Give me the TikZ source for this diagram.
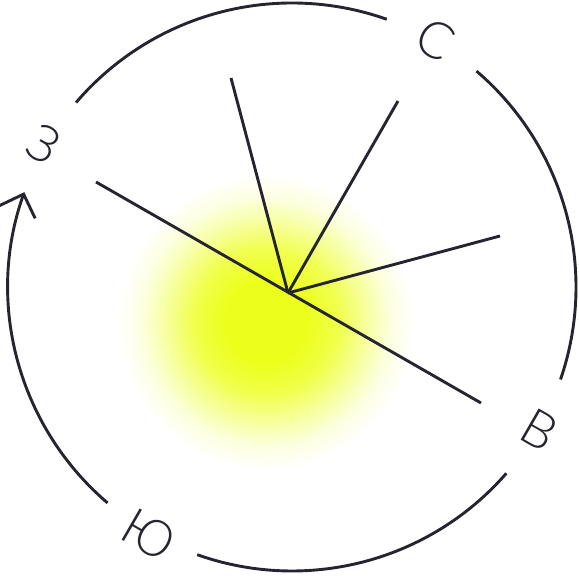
\documentclass[tikz,border=0pt]{standalone}
\usepackage{fontspec}
\newfontfamily\compassfont{Lato}[UprightFont=* Light]
\usepackage{tikz}
\usetikzlibrary{arrows.meta}
\definecolor{ink}{HTML}{25252F}
\definecolor{glowc}{RGB}{236,255,28}
\pgfdeclareradialshading{glow}{\pgfpoint{0bp}{0bp}}{%
  color(0bp)=(glowc); color(7bp)=(glowc); color(12bp)=(glowc!80!white);
  color(17bp)=(glowc!42!white); color(21bp)=(glowc!14!white);
  color(25bp)=(white); color(50bp)=(white)}

\begin{document}
\begin{tikzpicture}[
    x=1pt, y=1pt,
    ring/.style={draw=ink, line width=2.9pt},
    ray/.style={draw=ink, line width=2.9pt},
    letter/.style={font=\compassfont\fontsize{51}{51}\selectfont, text=ink, inner sep=0pt, rotate=-30}
]
\useasboundingbox (0,0) rectangle (579,577);
\coordinate (ctr) at (292,290);
\coordinate (hub) at (288,284);

% glow behind the rays
\shade[shading=glow] (266,255) circle (148);

% ring, broken at the four letters
\draw[ring] ([shift={(70.5:284)}]ctr) arc[start angle=70.5, end angle=139.5, radius=284];
\draw[ring, -{Straight Barb[length=19pt, width=38pt]}] ([shift={(229.5:284)}]ctr) arc[start angle=229.5, end angle=160.5, radius=284];
\draw[ring] ([shift={(-109.5:284)}]ctr) arc[start angle=-109.5, end angle=-41, radius=284];
\draw[ring] ([shift={(-19:284)}]ctr) arc[start angle=-19, end angle=49.5, radius=284];

\node[letter] (north) at ([shift={(60:286)}]ctr) {С};
\node[letter] (east) at ([shift={(-30:286)}]ctr) {В};
\node[letter] (south) at ([shift={(-120:286)}]ctr) {Ю};
\node[letter] (west) at ([shift={(150:286)}]ctr) {З};

% rays
\coordinate (rayA) at (231,499);
\coordinate (rayB) at (398,476);
\coordinate (rayC) at (500,341);
\coordinate (axisW) at (96,395);
\coordinate (axisE) at (481,174);
\draw[ray] (hub) -- (rayA);
\draw[ray] (hub) -- (rayB);
\draw[ray] (hub) -- (rayC);
\draw[ray] (axisW) -- (axisE);
\end{tikzpicture}
\end{document}
